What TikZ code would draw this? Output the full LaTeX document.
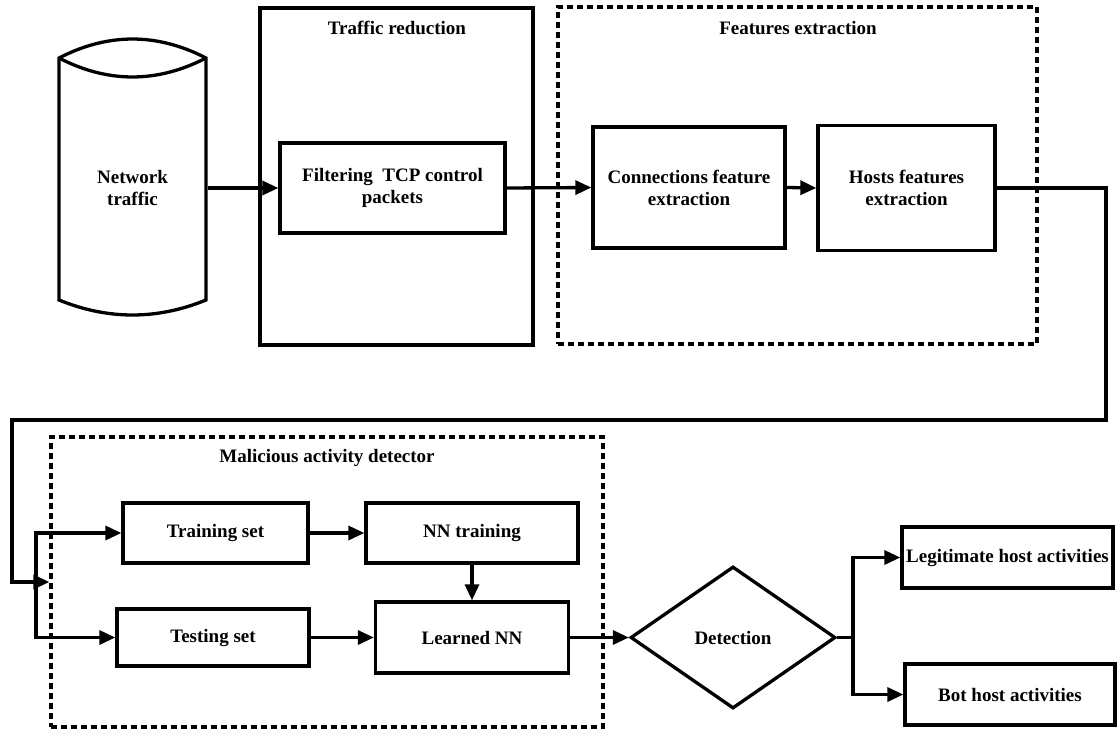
\documentclass[tikz,border=0pt]{standalone}
\usepackage{fontspec}
\setmainfont{Liberation Serif}
\usetikzlibrary{arrows.meta,shapes.geometric}

\begin{document}
\begin{tikzpicture}[x=1pt,y=-1pt,line width=3.3pt,
        font=\bfseries\fontsize{19}{22}\selectfont,
        blk/.style={draw,rectangle,align=center,inner sep=2pt},
        grp/.style={draw,rectangle,inner sep=0pt},
        dsh/.style={dash pattern=on 6pt off 4pt},
        arr/.style={-{Triangle[length=16pt,width=14pt]}}
    ]
    \useasboundingbox (0,0) rectangle (1118,731);

    % Cylinder
    \draw (59,300) -- (59,58) .. controls (108,32.7) and (157,32.7) .. (206,58)
        -- (206,300) .. controls (157,320) and (108,320) .. cycle;
    \draw (59,58) .. controls (108,83.3) and (157,83.3) .. (206,58);
    \node[align=center,minimum width=147pt] (net) at (132.5,188) {Network\\traffic};

    % Groups
    \node[grp,minimum width=273pt,minimum height=337pt] (red) at (396.5,176.5) {};
    \node (redt) at (397,28) {Traffic reduction};
    \node[grp,dsh,minimum width=479pt,minimum height=337pt] (fex) at (797.5,175.5) {};
    \node (fext) at (798,28) {Features extraction};
    \node[grp,dsh,minimum width=552pt,minimum height=290pt] (mad) at (327,582) {};
    \node (madt) at (327,458) {Malicious activity detector};

    % Blocks
    \node[blk,minimum width=225pt,minimum height=90pt] (filt) at (392.5,188) {Filtering~ TCP control\\packets};
    \node[blk,minimum width=192pt,minimum height=121pt] (conn) at (689,187.5) {Connections feature\\extraction};
    \node[blk,minimum width=177pt,minimum height=125pt] (host) at (906.5,188) {Hosts features\\extraction};
    \node[blk,minimum width=185pt,minimum height=60pt] (train) at (215.5,533) {Training set};
    \node[blk,minimum width=212pt,minimum height=60pt] (nntr) at (472,533) {NN training};
    \node[blk,minimum width=192pt,minimum height=57pt] (test) at (213,637.5) {Testing set};
    \node[blk,minimum width=193pt,minimum height=71pt] (lnn) at (472,637.5) {Learned NN};
    \node[draw,diamond,minimum width=205pt,minimum height=142pt,inner sep=0pt] (det) at (733,637.5) {Detection};
    \node[blk,minimum width=211pt,minimum height=61pt] (legit) at (1007.5,557.5) {Legitimate host activities};
    \node[blk,minimum width=210pt,minimum height=61pt] (bot) at (1010,694.5) {Bot host activities};

    \coordinate (tr) at (1106,420);
    \coordinate (tl) at (12,420);
    \coordinate (sp) at (36,582);
    \coordinate (dj) at (853,637.5);

    % Connectors
    \draw[arr] (net.east) -- (filt.west);
    \draw[arr] (filt.east) -- (conn.west);
    \draw[arr] (conn.east) -- (host.west);
    \draw[arr] (host.east) -| (tr) -- (tl) |- (mad.west);
    \draw[arr] (sp) |- (train.west);
    \draw[arr] (sp) |- (test.west);
    \draw[arr] (train.east) -- (nntr.west);
    \draw[arr] (nntr.south) -- (lnn.north);
    \draw[arr] (test.east) -- (lnn.west);
    \draw[arr] (lnn.east) -- (det.west);
    \draw (det.east) -- (dj);
    \draw[arr] (dj) |- (legit.west);
    \draw[arr] (dj) |- (bot.west);
\end{tikzpicture}
\end{document}
